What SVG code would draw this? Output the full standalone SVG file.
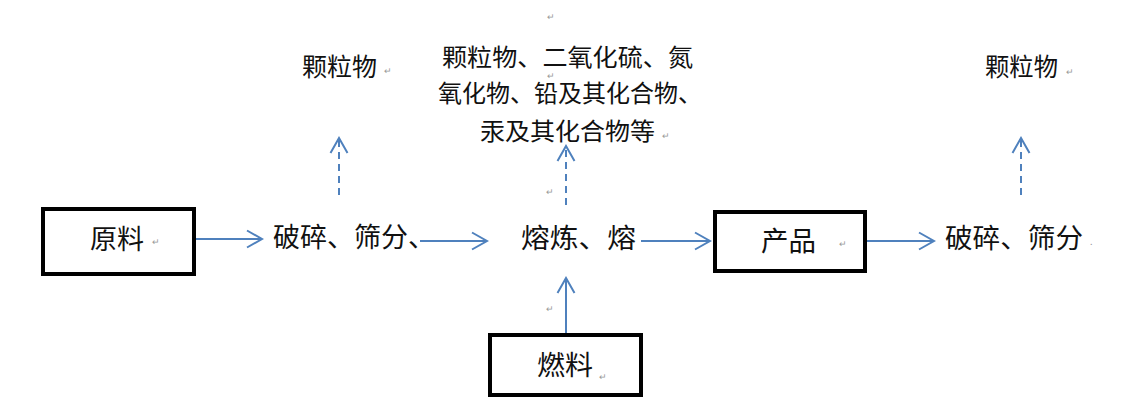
<svg xmlns="http://www.w3.org/2000/svg" width="1122" height="420" viewBox="0 0 1122 420">
<style>
text{font-family:"Noto Sans CJK SC","Noto Sans CJK JP",sans-serif;fill:#111}
.lbl{font-size:27px}
.em{font-size:25px}
.mid{font-size:24px}
.pm{font-size:9px;fill:#999}
.box{fill:#fff;stroke:#000;stroke-width:4}
.flow{stroke:#4F81BD;stroke-width:2;fill:none}
.dash{stroke-dasharray:7 5}
</style>
<defs>
<marker id="ah" markerUnits="userSpaceOnUse" markerWidth="18" markerHeight="20" viewBox="0 0 18 20" refX="16" refY="10" orient="auto">
<path d="M1,1.5 L16,10 L1,18.5" fill="none" stroke="#4F81BD" stroke-width="2"/>
</marker>
</defs>
<rect width="1122" height="420" fill="#fff"/>
<g id="connectors">
<line class="flow" x1="195" y1="239" x2="262" y2="239" marker-end="url(#ah)"/>
<line class="flow" x1="420" y1="241" x2="487" y2="241" marker-end="url(#ah)"/>
<line class="flow" x1="641" y1="241" x2="710" y2="241" marker-end="url(#ah)"/>
<line class="flow" x1="867" y1="241" x2="934" y2="241" marker-end="url(#ah)"/>
<line class="flow" x1="566" y1="333" x2="566" y2="278" marker-end="url(#ah)"/>
<line class="flow dash" x1="339" y1="195" x2="339" y2="138" marker-end="url(#ah)"/>
<line class="flow dash" x1="566" y1="205" x2="566" y2="146" marker-end="url(#ah)"/>
<line class="flow dash" x1="1021" y1="195" x2="1021" y2="138" marker-end="url(#ah)"/>
</g>
<g id="n-raw">
<rect class="box" x="43" y="209" width="151" height="65"/>
<text class="lbl" x="90" y="249" textLength="54" lengthAdjust="spacingAndGlyphs">原料</text>
<text class="pm" x="152" y="245">↵</text>
</g>
<g id="n-crush1">
<text class="lbl" x="273" y="247" textLength="162" lengthAdjust="spacingAndGlyphs">破碎、筛分、</text>
</g>
<g id="n-smelt">
<text class="lbl" x="521" y="248" textLength="115" lengthAdjust="spacingAndGlyphs">熔炼、熔</text>
</g>
<g id="n-product">
<rect class="box" x="715" y="212" width="150" height="59"/>
<text class="lbl" x="761" y="251" textLength="55" lengthAdjust="spacingAndGlyphs">产品</text>
<text class="pm" x="839" y="247">↵</text>
</g>
<g id="n-crush2">
<text class="lbl" x="945" y="248" textLength="138" lengthAdjust="spacingAndGlyphs">破碎、筛分</text>
<text class="pm" x="1090" y="245">.</text>
</g>
<g id="n-fuel">
<rect class="box" x="490" y="335" width="151" height="60"/>
<text class="lbl" x="537" y="375" textLength="56" lengthAdjust="spacingAndGlyphs">燃料</text>
<text class="pm" x="599" y="380">↵</text>
</g>
<g id="n-emit1">
<text class="em" x="302" y="76" textLength="75" lengthAdjust="spacingAndGlyphs">颗粒物</text>
<text class="pm" x="384" y="74">↵</text>
</g>
<g id="n-emit2">
<text class="mid" x="442" y="66" textLength="251" lengthAdjust="spacingAndGlyphs">颗粒物、二氧化硫、氮</text>
<text class="mid" x="438" y="102" textLength="264" lengthAdjust="spacingAndGlyphs">氧化物、铅及其化合物、</text>
<text class="mid" x="480" y="140" textLength="175" lengthAdjust="spacingAndGlyphs">汞及其化合物等</text>
<text class="pm" x="547" y="20">↵</text>
<text class="pm" x="547" y="79">↵</text>
<text class="pm" x="662" y="139">↵</text>
<text class="pm" x="546" y="195">↵</text>
<text class="pm" x="546" y="312">↵</text>
</g>
<g id="n-emit3">
<text class="em" x="985" y="76" textLength="73" lengthAdjust="spacingAndGlyphs">颗粒物</text>
<text class="pm" x="1066" y="75">↵</text>
</g>
</svg>
